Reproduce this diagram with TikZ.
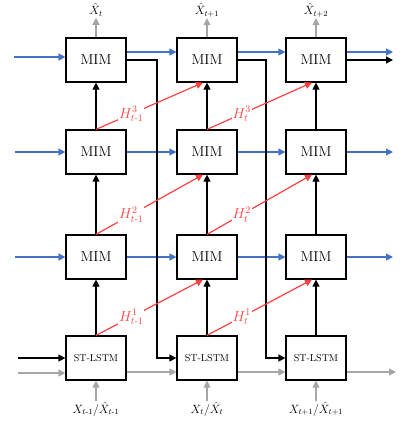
\documentclass[tikz,border=0pt]{standalone}
\usepackage{amsmath}
\usepackage{tikz}
\usetikzlibrary{arrows.meta,positioning,calc}

\definecolor{mimblue}{RGB}{68,114,196}
\definecolor{mimred}{RGB}{255,64,64}
\definecolor{mimgray}{RGB}{166,166,166}

\tikzset{
    cell/.style={draw, line width=1.2pt, minimum width=60pt, minimum height=44pt, inner sep=0pt, font=\Large},
    stcell/.style={cell, font=\normalsize},
    flow/.style={line width=1.2pt, -{Triangle[length=7pt,width=7pt]}},
    blueflow/.style={flow, mimblue},
    grayflow/.style={flow, mimgray},
    redflow/.style={flow, mimred},
    xlabel/.style={inner sep=1pt, font=\large},
    hlabel/.style={text=mimred, fill=white, inner sep=1pt, font=\Large, anchor=center}
}

\begin{document}
\begin{tikzpicture}[x=1pt, y=-1pt]
    \useasboundingbox (0, 0) rectangle (415, 439);

    \node[cell] (top1) at (96, 60) {MIM};
    \node[cell] (top2) at (207, 60) {MIM};
    \node[cell] (top3) at (316, 60) {MIM};

    \node[cell] (mid1) at (96, 152) {MIM};
    \node[cell] (mid2) at (207, 152) {MIM};
    \node[cell] (mid3) at (316, 152) {MIM};

    \node[cell] (low1) at (96, 257) {MIM};
    \node[cell] (low2) at (207, 257) {MIM};
    \node[cell] (low3) at (316, 257) {MIM};

    \node[stcell] (st1) at (96, 358) {ST-LSTM};
    \node[stcell] (st2) at (207, 358) {ST-LSTM};
    \node[stcell] (st3) at (316, 358) {ST-LSTM};

    % predictions on top
    \node[xlabel] (pred1) at (96, 10) {$\hat{X}_{t}$};
    \node[xlabel] (pred2) at (207, 10) {$\hat{X}_{t+1}$};
    \node[xlabel] (pred3) at (316, 10) {$\hat{X}_{t+2}$};

    % inputs at the bottom
    \node[xlabel] (in1) at (96, 409) {$X_{t\text{-}1}/\hat{X}_{t\text{-}1}$};
    \node[xlabel] (in2) at (207, 409) {$X_{t}/\hat{X}_{t}$};
    \node[xlabel] (in3) at (316, 409) {$X_{t+1}/\hat{X}_{t+1}$};

    \coordinate (lefttop) at (14, 57);
    \coordinate (leftmid) at (15, 152);
    \coordinate (leftlow) at (15, 257);
    \coordinate (leftblack) at (18, 358);
    \coordinate (leftgray) at (18, 373);
    \coordinate (righttop) at (393, 52);
    \coordinate (rightblack) at (393, 60);
    \coordinate (rightmid) at (393, 152);
    \coordinate (rightlow) at (393, 257);
    \coordinate (rightgray) at (396, 372);
    \coordinate (bend1) at (157, 60);
    \coordinate (bend2) at (266, 60);

    \draw[grayflow] (top1.north) -- (pred1.south);
    \draw[grayflow] (top2.north) -- (pred2.south);
    \draw[grayflow] (top3.north) -- (pred3.south);

    \draw[grayflow] (in1.north) -- (st1.south);
    \draw[grayflow] (in2.north) -- (st2.south);
    \draw[grayflow] (in3.north) -- (st3.south);

    \draw[blueflow] (lefttop) -- ([yshift=3pt]top1.west);
    \draw[blueflow] ([yshift=8pt]top1.east) -- ([yshift=8pt]top2.west);
    \draw[blueflow] ([yshift=8pt]top2.east) -- ([yshift=8pt]top3.west);
    \draw[blueflow] ([yshift=8pt]top3.east) -- (righttop);

    \draw[blueflow] (leftmid) -- (mid1.west);
    \draw[blueflow] (mid1) -- (mid2);
    \draw[blueflow] (mid2) -- (mid3);
    \draw[blueflow] (mid3.east) -- (rightmid);

    \draw[blueflow] (leftlow) -- (low1.west);
    \draw[blueflow] (low1) -- (low2);
    \draw[blueflow] (low2) -- (low3);
    \draw[blueflow] (low3.east) -- (rightlow);

    \draw[flow] (leftblack) -- (st1.west);
    \draw[flow] (top1.east) -- (bend1) |- (st2.west);
    \draw[flow] (top2.east) -- (bend2) |- (st3.west);
    \draw[flow] (top3.east) -- (rightblack);

    \draw[grayflow] (leftgray) -- ([yshift=-15pt]st1.west);
    \draw[grayflow] ([yshift=-14pt]st1.east) -- ([yshift=-14pt]st2.west);
    \draw[grayflow] ([yshift=-14pt]st2.east) -- ([yshift=-14pt]st3.west);
    \draw[grayflow] ([yshift=-14pt]st3.east) -- (rightgray);

    \draw[flow] (st1) -- (low1);
    \draw[flow] (low1) -- (mid1);
    \draw[flow] (mid1) -- (top1);
    \draw[flow] (st2) -- (low2);
    \draw[flow] (low2) -- (mid2);
    \draw[flow] (mid2) -- (top2);
    \draw[flow] (st3) -- (low3);
    \draw[flow] (low3) -- (mid3);
    \draw[flow] (mid3) -- (top3);

    \path[redflow] (mid1.north) edge node[hlabel, pos=0.33] {$H^{3}_{t\text{-}1}$} ([xshift=-4pt]top2.south);
    \path[redflow] (low1.north) edge node[hlabel, pos=0.33] {$H^{2}_{t\text{-}1}$} ([xshift=-4pt]mid2.south);
    \path[redflow] (st1.north) edge node[hlabel, pos=0.33] {$H^{1}_{t\text{-}1}$} ([xshift=-4pt]low2.south);
    \path[redflow] (mid2.north) edge node[hlabel, pos=0.33] {$H^{3}_{t}$} ([xshift=-4pt]top3.south);
    \path[redflow] (low2.north) edge node[hlabel, pos=0.33] {$H^{2}_{t}$} ([xshift=-4pt]mid3.south);
    \path[redflow] (st2.north) edge node[hlabel, pos=0.33] {$H^{1}_{t}$} ([xshift=-4pt]low3.south);
\end{tikzpicture}
\end{document}
